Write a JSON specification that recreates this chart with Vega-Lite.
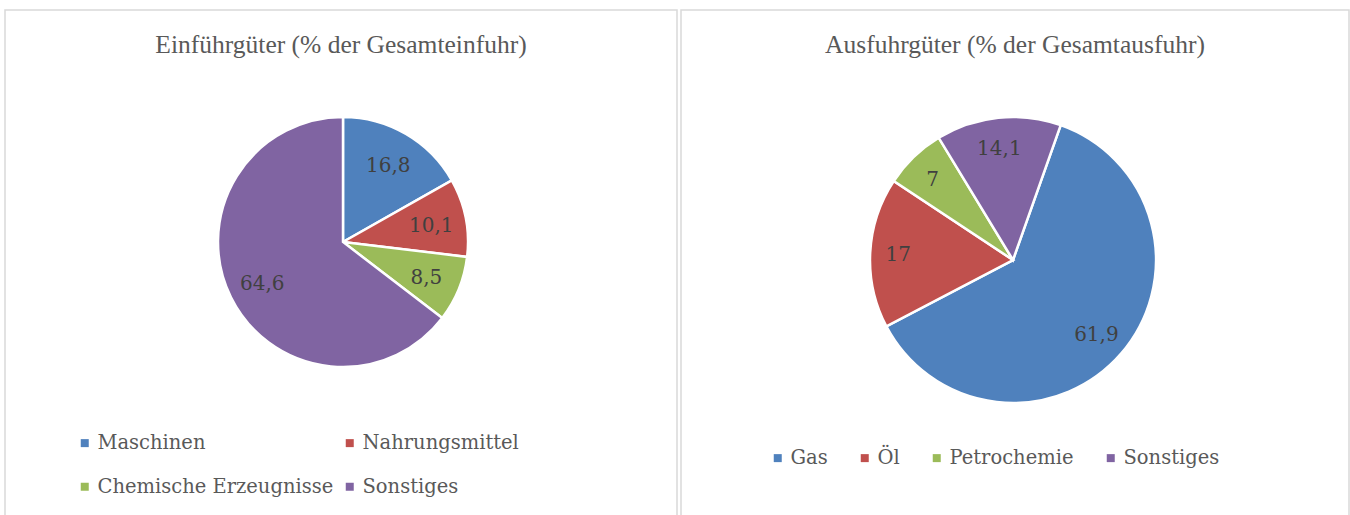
{
  "$schema": "https://vega.github.io/schema/vega-lite/v6.json",
  "padding": {"left": 4, "top": 9, "right": 0, "bottom": 0},
  "background": "white",
  "spacing": 2,
  "resolve": {"scale": {"color": "independent"}, "legend": {"color": "independent"}},
  "config": {
    "locale": {"number": {"decimal": ",", "thousands": ".", "grouping": [3], "currency": ["", " €"]}},
    "title": {"font": "Liberation Serif", "fontSize": 25.5, "fontWeight": "normal", "color": "#595959", "anchor": "middle", "orient": "top", "offset": -48},
    "legend": {"labelFont": "DejaVu Serif", "labelFontSize": 19.5, "labelColor": "#595959", "labelLimit": 400, "symbolType": "square", "symbolSize": 64, "symbolStrokeWidth": 0, "labelOffset": 3}
  },
  "hconcat": [
    {
      "width": 672,
      "height": 520,
      "view": {"stroke": "#d9d9d9", "strokeWidth": 1.5},
      "title": "Einführgüter (% der Gesamteinfuhr)",
      "data": {"values": [
        {"Kategorie": "Maschinen", "Anteil": 16.8, "Reihenfolge": 1},
        {"Kategorie": "Nahrungsmittel", "Anteil": 10.1, "Reihenfolge": 2},
        {"Kategorie": "Chemische Erzeugnisse", "Anteil": 8.5, "Reihenfolge": 3},
        {"Kategorie": "Sonstiges", "Anteil": 64.6, "Reihenfolge": 4}
      ]},
      "encoding": {
        "theta": {"field": "Anteil", "type": "quantitative", "stack": true},
        "order": {"field": "Reihenfolge", "type": "quantitative"}
      },
      "layer": [
        {"mark": {"type": "arc", "outerRadius": 125, "stroke": "white", "strokeWidth": 2.5, "xOffset": 2, "yOffset": -28},
         "encoding": {
          "color": {
            "field": "Kategorie", "type": "nominal",
            "scale": {"domain": ["Maschinen", "Nahrungsmittel", "Chemische Erzeugnisse", "Sonstiges"], "range": ["#4F81BD", "#C0504D", "#9BBB59", "#8064A2"]},
            "legend": {"title": null, "orient": "none", "legendX": 70, "legendY": 423, "columns": 2, "direction": "horizontal", "rowPadding": 23, "columnPadding": 6}
          }
         }},
        {"mark": {"type": "text", "radius": 90, "font": "DejaVu Serif", "fontSize": 20, "xOffset": 2, "yOffset": -26},
         "encoding": {"text": {"field": "Anteil", "type": "quantitative", "format": "~g"}, "color": {"value": "#404040"}}}
      ]
    },
    {
      "width": 668,
      "height": 520,
      "view": {"stroke": "#d9d9d9", "strokeWidth": 1.5},
      "title": "Ausfuhrgüter (% der Gesamtausfuhr)",
      "data": {"values": [
        {"Kategorie": "Gas", "Anteil": 61.9, "Reihenfolge": 1},
        {"Kategorie": "Öl", "Anteil": 17, "Reihenfolge": 2},
        {"Kategorie": "Petrochemie", "Anteil": 7, "Reihenfolge": 3},
        {"Kategorie": "Sonstiges", "Anteil": 14.1, "Reihenfolge": 4}
      ]},
      "encoding": {
        "theta": {"field": "Anteil", "type": "quantitative", "stack": true, "scale": {"range": [0.34, 6.6232]}},
        "order": {"field": "Reihenfolge", "type": "quantitative"}
      },
      "layer": [
        {"mark": {"type": "arc", "outerRadius": 143, "stroke": "white", "strokeWidth": 2.5, "xOffset": -2, "yOffset": -10},
         "encoding": {
          "color": {
            "field": "Kategorie", "type": "nominal",
            "scale": {"domain": ["Gas", "Öl", "Petrochemie", "Sonstiges"], "range": ["#4F81BD", "#C0504D", "#9BBB59", "#8064A2"]},
            "legend": {"title": null, "orient": "none", "legendX": 87, "legendY": 438, "columns": 4, "direction": "horizontal", "columnPadding": 27}
          }
         }},
        {"mark": {"type": "text", "radius": 113, "font": "DejaVu Serif", "fontSize": 20, "xOffset": -4, "yOffset": -9},
         "encoding": {"text": {"field": "Anteil", "type": "quantitative", "format": "~g"}, "color": {"value": "#404040"}}}
      ]
    }
  ]
}
